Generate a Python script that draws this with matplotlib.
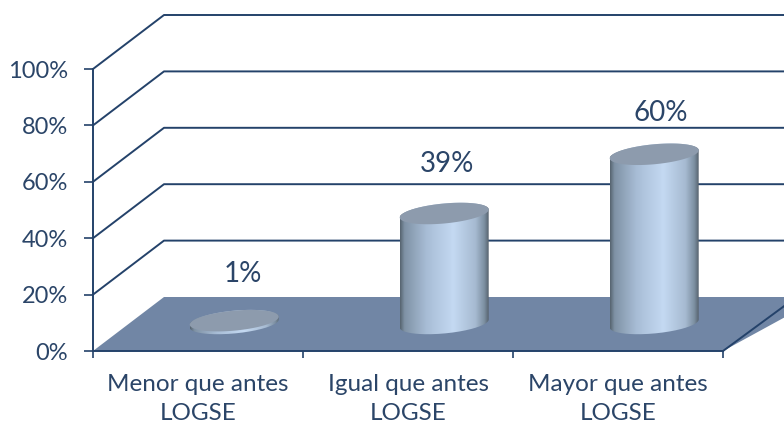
import numpy as np
import matplotlib
matplotlib.use("Agg")
import matplotlib.pyplot as plt
from matplotlib.colors import LinearSegmentedColormap
from matplotlib.patches import Polygon, PathPatch
from matplotlib.path import Path

# data
categories = ["Menor que antes\nLOGSE", "Igual que antes\nLOGSE", "Mayor que antes\nLOGSE"]
values = [1, 39, 60]
value_labels = ["1%", "39%", "60%"]
y_ticks = [0, 20, 40, 60, 80, 100]

# style
NAVY = "#24426A"
TEXT = "#2B4568"
FLOOR = "#7186A5"
TOP = "#8D9BAD"
cmap_cyl = LinearSegmentedColormap.from_list(
    "cyl", [(0, "#56646F"), (0.05, "#7F92A5"), (0.3, "#A8BDD6"), (0.6, "#C4D9F2"),
            (0.85, "#A6BAD1"), (0.95, "#7C8FA1"), (1, "#56626D")])
plt.rcParams["font.family"] = "Lato"

# layout: pixels per data unit and 3D depth of the plot box
W, H = 784, 425
X0, Y0 = 93, 351
SX, SY = 210.0, 2.82
DEPTH_X, DEPTH_Y = 71 / SX, 54 / SY
BAR_DEPTH = 0.51
BAR_HALF = 44.5 / SX
ELL_B = 10 / SY      # ellipse half height
ELL_SHEAR = 4 / SY   # right side sits higher than left
LABEL_DX = [0.04, 0.012, 0.03]
LABEL_DY = [16.5, 17.5, 14.8]


def cylinder(ax, cx, base, top):
    t = np.linspace(0, np.pi, 80)
    # upper half of base outline is hidden, so walk the lower half then the top edge
    xb = cx - BAR_HALF * np.cos(t)
    yb = base - ELL_SHEAR * np.cos(t) - ELL_B * np.sin(t)
    xt = cx + BAR_HALF * np.cos(t)
    yt = top + ELL_SHEAR * np.cos(t) + ELL_B * np.sin(t)
    body = Path(np.column_stack([np.r_[xb, xt], np.r_[yb, yt]]))
    grad = np.linspace(0, 1, 256).reshape(1, -1)
    im = ax.imshow(grad, cmap=cmap_cyl, aspect="auto", zorder=3, interpolation="bilinear",
                   extent=(cx - BAR_HALF, cx + BAR_HALF, base - 20, top + 20))
    im.set_clip_path(PathPatch(body, transform=ax.transData))
    a = np.linspace(0, 2 * np.pi, 160)
    ax.fill(cx + BAR_HALF * np.cos(a), top + ELL_SHEAR * np.cos(a) + ELL_B * np.sin(a),
            color=TOP, lw=0, zorder=4)


fig = plt.figure(figsize=(W / 100, H / 100), dpi=100)
ax = fig.add_axes([0, 0, 1, 1])
xlim = (-X0 / SX, (W - X0) / SX)
ylim = ((Y0 - H) / SY, Y0 / SY)

# back wall gridlines with the slanted side wall
for v in y_ticks[1:]:
    ax.plot([0, DEPTH_X, xlim[1]], [v, v + DEPTH_Y, v + DEPTH_Y], color=NAVY, lw=1.4, zorder=1)

# floor
ax.add_patch(Polygon([(0, 0), (DEPTH_X, DEPTH_Y), (xlim[1] + 0.1, DEPTH_Y),
                      (xlim[1] + 0.1, DEPTH_Y * 0.83), (3, 0)], closed=True,
                     fc=FLOOR, ec="none", zorder=2))
ax.plot([3, xlim[1]], [0, DEPTH_Y * 0.83], color=NAVY, lw=1.4, zorder=2)

for i, v in enumerate(values):
    cx = i + 0.5 + BAR_DEPTH * DEPTH_X
    base = BAR_DEPTH * DEPTH_Y
    cylinder(ax, cx, base, base + v)
    ax.text(cx + LABEL_DX[i], base + v + LABEL_DY[i], value_labels[i], ha="center", va="center",
            fontsize=20, color=TEXT, zorder=5)

ax.set_xlim(*xlim)
ax.set_ylim(*ylim)
ax.patch.set_visible(False)

for side in ["top", "right"]:
    ax.spines[side].set_visible(False)
ax.spines["left"].set_position(("data", 0))
ax.spines["bottom"].set_position(("data", 0))
ax.spines["left"].set_bounds(0, 100)
ax.spines["bottom"].set_bounds(0, 3)
for side in ["left", "bottom"]:
    ax.spines[side].set_color(NAVY)
    ax.spines[side].set_linewidth(1.4)
    ax.spines[side].set_zorder(6)

ax.set_yticks(y_ticks)
ax.set_yticklabels([f"{v}%" for v in y_ticks])
ax.tick_params(axis="y", direction="out", length=6.5, width=1.2, color=NAVY,
               labelcolor=TEXT, labelsize=17, pad=11.5)
ax.set_xticks([0, 1, 2, 3])
ax.set_xticklabels([])
ax.tick_params(axis="x", direction="out", length=5, width=1.2, color=NAVY)
ax.set_xticks([0.5, 1.5, 2.5], minor=True)
ax.set_xticklabels(categories, minor=True, fontsize=17.5, color=TEXT, linespacing=1.45)
ax.tick_params(axis="x", which="minor", length=0, pad=16.5)

fig.savefig("out.png", dpi=100, facecolor="white")
